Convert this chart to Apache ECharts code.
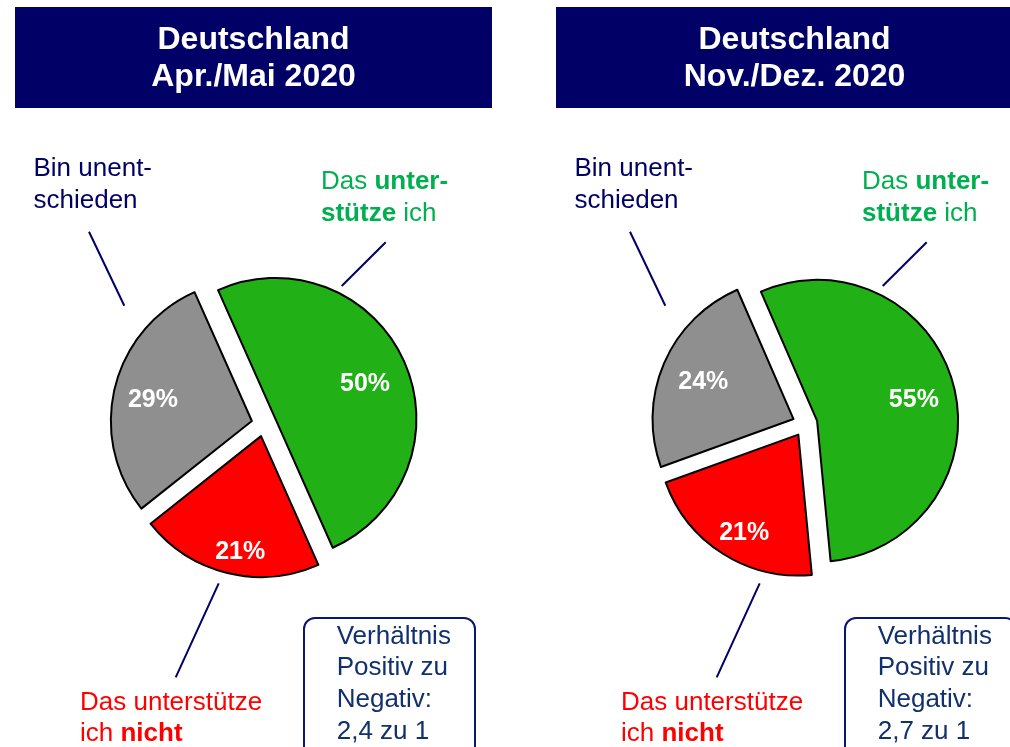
<!DOCTYPE html>
<html>
<head>
<meta charset="utf-8">
<script src="https://cdn.jsdelivr.net/npm/echarts@6/dist/echarts.min.js"></script>
<style>
html,body{margin:0;padding:0;background:#fff;}
#chart{width:1010px;height:747px;}
</style>
</head>
<body>
<div id="chart"></div>
<script>
// ---- data ----
const categories = ['Das unterstütze ich', 'Das unterstütze ich nicht', 'Bin unentschieden'];
const aprMai = [50, 21, 29];
const novDez = [55, 21, 24];
const panelTitles = ['Deutschland\nApr./Mai 2020', 'Deutschland\nNov./Dez. 2020'];
const ratioTexts = ['Verhältnis\nPositiv zu\nNegativ:\n2,4 zu 1', 'Verhältnis\nPositiv zu\nNegativ:\n2,7 zu 1'];

// ---- styles / layout ----
const sliceColors = ['#21b015', '#ff0000', '#8f8f8f'];
const NAVY = '#000066';
const FONT = '"Liberation Sans", Arial, sans-serif';
const PANEL_SHIFT = 541;
const startAngles = [114, 113.5];
const labelShift = [
  [[22.5, -5], [-3.3, 44.5], [-27.5, -3.3]],
  [[25.6, -2.3], [-14.9, 36.9], [-22.7, -8.3]]
];

const chart = echarts.init(document.getElementById('chart'), null, {renderer: 'canvas'});

function pieSeries(values, idx) {
  return {
    type: 'pie',
    center: [264 + idx * PANEL_SHIFT, 424],
    radius: 141,
    startAngle: startAngles[idx],
    clockwise: true,
    selectedMode: 'multiple',
    selectedOffset: 12.5,
    animation: false,
    emphasis: {disabled: true},
    select: {itemStyle: {borderColor: '#000', borderWidth: 2}},
    itemStyle: {borderColor: '#000', borderWidth: 2},
    label: {
      show: true, position: 'inside', formatter: '{c}%',
      color: '#fff', fontSize: 25, fontWeight: 'bold', fontFamily: FONT
    },
    labelLine: {show: false},
    labelLayout: function (p) {
      const s = labelShift[idx][p.dataIndex];
      return {dx: s[0], dy: s[1]};
    },
    data: values.map((v, i) => ({
      name: categories[i], value: v, selected: true,
      itemStyle: {color: sliceColors[i]}
    }))
  };
}

const graphics = [];
for (let k = 0; k < 2; k++) {
  const o = k * PANEL_SHIFT;
  graphics.push({
    type: 'rect', shape: {x: 15 + o, y: 7, width: 477, height: 101},
    style: {fill: NAVY}
  });
  graphics.push({
    type: 'text',
    style: {
      x: 253.5 + o, y: 59, text: panelTitles[k], fill: '#fff',
      fontSize: 32, fontWeight: 'bold', fontFamily: FONT,
      align: 'center', verticalAlign: 'middle', lineHeight: 37
    }
  });
  // undecided label
  graphics.push({
    type: 'text',
    style: {
      x: 33.5 + o, y: 185, text: 'Bin unent-\nschieden', fill: NAVY,
      fontSize: 26, fontFamily: FONT, align: 'left', verticalAlign: 'middle', lineHeight: 31.7
    }
  });
  graphics.push({
    type: 'line', shape: {x1: 89 + o, y1: 231.7, x2: 124.3 + o, y2: 305.7},
    style: {stroke: NAVY, lineWidth: 2}
  });
  // support label
  graphics.push({
    type: 'text',
    style: {
      x: 321 + o, y: 197.5,
      text: '{r|Das }{b|unter-}\n{b|stütze}{r| ich}',
      align: 'left', verticalAlign: 'middle',
      rich: {
        r: {fill: '#00b050', fontSize: 26, fontFamily: FONT, lineHeight: 31.7},
        b: {fill: '#00b050', fontSize: 26, fontFamily: FONT, fontWeight: 'bold', lineHeight: 31.7}
      }
    }
  });
  graphics.push({
    type: 'line', shape: {x1: 385.7 + o, y1: 242.3, x2: 341.7 + o, y2: 286},
    style: {stroke: NAVY, lineWidth: 2}
  });
  // oppose label
  graphics.push({
    type: 'text',
    style: {
      x: 80 + o, y: 718.3,
      text: '{r|Das unterstütze}\n{r|ich }{b|nicht}',
      align: 'left', verticalAlign: 'middle',
      rich: {
        r: {fill: '#ff0000', fontSize: 26, fontFamily: FONT, lineHeight: 31.7},
        b: {fill: '#ff0000', fontSize: 26, fontFamily: FONT, fontWeight: 'bold', lineHeight: 31.7}
      }
    }
  });
  graphics.push({
    type: 'line', shape: {x1: 218.7 + o, y1: 583.3, x2: 175.7 + o, y2: 677.3},
    style: {stroke: NAVY, lineWidth: 2}
  });
  // ratio box
  graphics.push({
    type: 'rect', shape: {x: 304 + o, y: 618, width: 171, height: 150, r: 11},
    style: {fill: 'none', stroke: '#0a1670', lineWidth: 2}
  });
  graphics.push({
    type: 'text',
    style: {
      x: 336.7 + o, y: 684, text: ratioTexts[k], fill: '#10306e',
      fontSize: 26, fontFamily: FONT, align: 'left', verticalAlign: 'middle', lineHeight: 31.7
    }
  });
}

chart.setOption({
  animation: false,
  backgroundColor: '#fff',
  series: [pieSeries(aprMai, 0), pieSeries(novDez, 1)],
  graphic: {elements: graphics}
});
</script>
</body>
</html>
